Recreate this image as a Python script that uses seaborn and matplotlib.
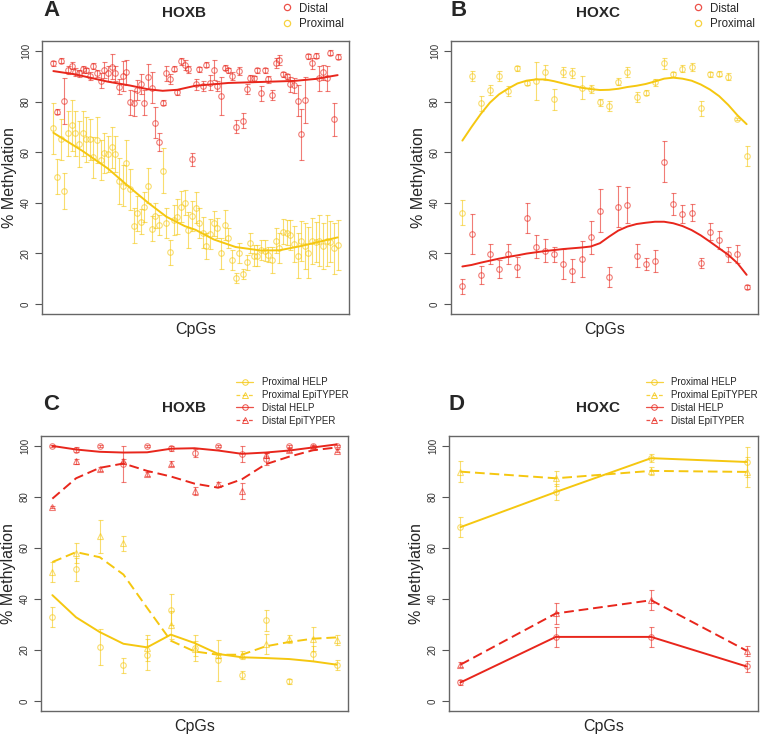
import matplotlib
matplotlib.use('Agg')
import matplotlib.pyplot as plt
from matplotlib.lines import Line2D
import numpy as np
import seaborn as sns

# ---------------- panel A: HOXB, 79 CpGs ----------------
a_distal = [95.1, 76.0, 96.2, 80.2, 92.5, 94.3, 91.8, 91.2, 92.8, 92.5,
            90.1, 94.1, 91.2, 88.3, 92.5, 91.2, 93.8, 91.2, 85.9, 90.1,
            91.6, 79.8, 79.3, 84.6, 87.0, 79.6, 89.9, 85.6, 71.7, 64.0,
            79.6, 91.2, 88.8, 93.1, 83.8, 95.9, 94.5, 92.8, 57.2, 86.8,
            92.8, 86.2, 94.7, 87.5, 92.5, 86.2, 82.2, 93.5, 92.5, 90.1,
            70.1, 92.1, 72.5, 85.0, 89.2, 89.2, 92.5, 83.3, 92.5, 88.8,
            82.6, 95.4, 96.4, 90.8, 90.1, 86.8, 86.4, 80.4, 67.1, 80.6,
            98.0, 95.1, 98.2, 89.2, 91.6, 89.2, 99.3, 73.0, 97.7]
a_distal_err = [1, 1, 1, 9, 1.5, 1.5, 1.5, 1.5, 1.5, 1,
                1.5, 1, 1.5, 3, 3, 3, 5, 3, 3, 6,
                5, 5, 5, 4, 4, 5, 5, 6, 6, 3.5,
                1, 3, 2, 1, 1, 1.5, 2, 1.5, 2.5, 2,
                1, 2, 1, 3, 4, 2, 7.5, 1, 1, 1.5,
                2.5, 1.5, 3, 2, 1.5, 1, 1, 3, 1, 1.5,
                2, 2, 2, 1, 1, 3, 3, 6, 10, 9,
                1, 2, 1, 5, 3, 5, 1, 6.5, 1]
a_proximal = [69.4, 50.3, 65.1, 44.7, 67.5, 70.6, 67.5, 63.2, 67.5, 65.1,
              65.1, 58.0, 64.8, 56.9, 59.6, 59.3, 61.9, 59.3, 48.7, 46.8,
              55.9, 45.3, 31.0, 35.8, 32.5, 38.2, 46.8, 29.8, 34.9, 31.2,
              52.7, 32.1, 20.4, 33.2, 34.5, 38.5, 40.1, 29.2, 34.8, 38.1,
              32.1, 28.2, 22.9, 27.7, 31.9, 29.9, 20.0, 31.2, 26.0, 17.4,
              10.1, 20.0, 11.9, 16.5, 24.0, 19.1, 19.1, 21.3, 21.1, 19.4,
              17.4, 25.0, 22.0, 28.6, 28.2, 27.3, 23.7, 19.1, 24.9, 22.9,
              20.3, 24.9, 24.5, 25.0, 22.9, 25.0, 24.6, 22.0, 23.3]
a_proximal_err = [10, 7, 8, 7, 9, 10, 9, 9, 9, 9,
                  8, 8, 9, 8, 8, 7, 8, 7, 9, 8,
                  9, 8, 7, 7, 5, 6, 7, 5, 5, 4,
                  9, 6, 5, 6, 7, 6, 5, 7, 6, 6,
                  6, 6, 5, 6, 5, 4, 6, 6, 4, 4,
                  2, 4, 2, 3, 4, 4, 4, 4, 4, 3,
                  5, 5, 6, 5, 5, 6, 7, 9, 8, 9,
                  10, 9, 8, 10, 9, 10, 8, 10, 10]
# smoothed trend, read at a few CpG positions
a_trend_x = [0, 6, 15, 21, 26, 30, 34, 39, 48, 57, 66, 72, 78]
a_trend_distal = [92.1, 90.8, 87.9, 86.4, 84.9, 84.3, 84.7, 86.3, 87.4, 87.8, 88.2, 89.0, 90.5]
a_trend_px = [0, 8, 15, 21, 26, 31, 36, 39, 44, 50, 57, 62, 68, 73, 78]
a_trend_proximal = [67.7, 60.5, 53.5, 46.0, 40.0, 34.5, 30.8, 29.3, 25.5, 22.5,
                    21.1, 21.2, 22.9, 24.6, 26.3]

# ---------------- panel B: HOXC, 32 CpGs ----------------
b_proximal = [36.1, 90.2, 79.3, 84.6, 90.2, 84.3, 93.3, 87.5, 88.0, 91.7,
              80.9, 91.6, 91.4, 85.6, 85.0, 79.7, 78.4, 87.9, 91.8, 81.7,
              83.5, 87.6, 95.1, 90.8, 93.1, 93.8, 77.3, 90.8, 91.0, 89.9,
              73.1, 58.6]
b_proximal_err = [5, 2, 3, 2, 2, 2, 1, 1, 7.5, 3,
                  4, 2, 2, 4.5, 1.5, 1.5, 2, 1.5, 2, 2,
                  1, 1.5, 2, 1, 1.5, 1.5, 3, 1, 1, 1.5,
                  0.5, 4]
b_distal = [6.9, 27.7, 11.3, 19.6, 13.8, 19.6, 14.5, 34.1, 22.7, 21.1,
            19.6, 15.7, 13.2, 17.7, 26.4, 36.9, 10.5, 38.5, 39.1, 19.1,
            15.8, 17.0, 56.3, 39.5, 35.6, 36.1, 16.3, 28.6, 25.3, 19.6,
            19.6, 6.5]
b_distal_err = [3, 8, 3.5, 4, 3.5, 4, 4, 6, 4.5, 4.5,
                3, 6, 4.5, 7, 6.5, 8.5, 4, 8, 7, 4.5,
                2.5, 4.5, 8, 4.5, 3.5, 3.5, 2, 3.5, 3.5, 3,
                3.5, 0.8]
b_trend_proximal = [64.6, 70.0, 75.1, 79.6, 82.9, 85.2, 87.2, 88.3, 88.8, 88.8,
                    88.1, 87.2, 86.3, 85.5, 85.0, 84.6, 84.7, 85.1, 85.8, 86.3,
                    87.0, 88.0, 89.1, 89.5, 89.1, 88.3, 86.8, 84.8, 82.2, 78.7,
                    74.6, 71.1]
b_trend_distal = [14.8, 15.4, 16.3, 17.1, 17.9, 18.6, 19.2, 19.9, 20.4, 20.9,
                  21.3, 21.7, 22.0, 22.3, 22.7, 24.0, 26.6, 29.0, 30.6, 31.6,
                  32.1, 32.5, 32.5, 31.9, 30.8, 29.2, 27.1, 24.6, 22.0, 19.4,
                  16.1, 11.5]

# ---------------- panel C: HOXB, HELP vs EpiTYPER ----------------
c_prox_help = [32.9, 51.6, 21.1, 13.9, 18.1, 35.8, 20.7, 15.9, 10.2, 31.6, 7.6, 18.5, 14.2]
c_prox_help_err = [4, 4.5, 7, 3, 6, 6, 5, 8, 1.5, 4, 1, 3, 2]
c_prox_epi = [50.7, 58.1, 64.7, 61.8, 20.8, 29.7, 20.5, 17.8, 18.1, 22.4, 24.4, 24.4, 23.8]
c_prox_epi_err = [4, 4, 6.5, 3, 5, 5.5, 3, 1, 1.5, 4, 1.5, 4.7, 2]
c_dist_help = [100, 98.6, 100, 92.9, 100, 99.2, 97.2, 100, 96.9, 95.0, 100, 100, 100]
c_dist_help_err = [0.3, 1, 0.3, 7, 0.3, 1, 1.5, 0.3, 3, 2.5, 0.3, 0.5, 0.5]
c_dist_epi = [76.1, 94.0, 91.2, 94.0, 89.2, 93.2, 82.4, 85.0, 82.4, 96.5, 98.4, 99.7, 98.2]
c_dist_epi_err = [0.5, 1, 0.8, 1, 0.8, 1, 1.5, 1, 3, 1, 0.8, 0.5, 0.5]
c_trend_prox_help = [41.5, 32.8, 27.0, 22.4, 21.0, 26.0, 22.7, 18.4, 17.1, 16.8, 16.4, 15.5, 14.2]
c_trend_prox_epi = [54.5, 58.4, 56.4, 49.6, 36.5, 23.6, 19.4, 18.1, 18.1, 21.4, 23.1, 24.4, 24.9]
c_trend_dist_help = [100.1, 98.7, 97.8, 97.5, 97.6, 99.0, 99.2, 98.3, 97.0, 97.5, 98.3, 99.5, 100.7]
c_trend_dist_epi = [79.4, 87.4, 91.5, 93.2, 90.3, 88.1, 85.3, 83.7, 87.0, 92.9, 95.9, 98.4, 99.5]

# ---------------- panel D: HOXC, HELP vs EpiTYPER ----------------
d_prox_help = [68.2, 82.0, 95.3, 93.8]
d_prox_help_err = [4, 3, 1.5, 6]
d_prox_epi = [90.0, 87.4, 90.3, 89.9]
d_prox_epi_err = [4, 3, 1.5, 6]
d_dist_help = [7.2, 25.1, 25.1, 13.5]
d_dist_help_err = [1, 4, 4, 2]
d_dist_epi = [14.2, 34.3, 39.5, 19.7]
d_dist_epi_err = [1, 4, 4, 2]

RED = '#E8261C'
GOLD = '#F5C710'
DASH = (0, (5, 2.5))

sns.set_style('white')
plt.rcParams['font.family'] = ['Liberation Sans', 'DejaVu Sans']

W, H = 760, 734
fig = plt.figure(figsize=(W / 100, H / 100), dpi=100)


def px_axes(left, top, right, bottom):
    return fig.add_axes([left / W, 1 - bottom / H, (right - left) / W, (bottom - top) / H])


def style(ax, n):
    pad = 0.04 * (n - 1)
    ax.set_xlim(-pad, n - 1 + pad)
    ax.set_ylim(-4, 104)
    ax.set_xticks([])
    ax.set_yticks([0, 20, 40, 60, 80, 100])
    ax.tick_params(axis='y', left=True, length=5, width=0.8, color='#555555',
                   labelsize=7, labelcolor='#333333', pad=3, labelrotation=90)
    for lab in ax.get_yticklabels():
        lab.set_va('center')
    for sp in ax.spines.values():
        sp.set_color('#666666')
        sp.set_linewidth(1)
    ax.set_xlabel('CpGs', fontsize=11.5, labelpad=6)
    ax.set_ylabel('% Methylation', fontsize=11.5, labelpad=3)


def points(ax, y, err, color, marker='o', alpha=0.6):
    x = np.arange(len(y))
    ax.errorbar(x, y, yerr=err, fmt=marker, mfc='none', mec=color, ms=4, mew=0.8,
                ecolor=color, elinewidth=0.8, capsize=1.8, capthick=0.8,
                alpha=alpha, linestyle='none')


def trend(ax, x, y, color, dashed=False):
    kw = {'linestyle': DASH} if dashed else {}
    sns.lineplot(x=x, y=y, ax=ax, color=color, linewidth=1.4, **kw)


def heading(letter, title, lx, tx, y):
    fig.text(lx / W, 1 - y / H, letter, fontsize=16, fontweight='bold', ha='left', va='center')
    fig.text(tx / W, 1 - (y + 3) / H, title, fontsize=11, fontweight='bold', ha='center', va='center')


# panel A
ax = px_axes(42, 41, 349, 314)
points(ax, a_distal, a_distal_err, RED)
points(ax, a_proximal, a_proximal_err, GOLD)
trend(ax, a_trend_x, a_trend_distal, RED)
trend(ax, a_trend_px, a_trend_proximal, GOLD)
style(ax, len(a_distal))
heading('A', 'HOXB', 43, 184, 10)

# panel B
ax = px_axes(451, 41, 758, 314)
points(ax, b_distal, b_distal_err, RED)
points(ax, b_proximal, b_proximal_err, GOLD)
trend(ax, np.arange(len(b_trend_proximal)), b_trend_proximal, GOLD)
trend(ax, np.arange(len(b_trend_distal)), b_trend_distal, RED)
style(ax, len(b_distal))
heading('B', 'HOXC', 451, 598, 10)

# panel C
ax = px_axes(41, 436, 348, 711)
points(ax, c_dist_help, c_dist_help_err, RED)
points(ax, c_dist_epi, c_dist_epi_err, RED, marker='^')
points(ax, c_prox_help, c_prox_help_err, GOLD)
points(ax, c_prox_epi, c_prox_epi_err, GOLD, marker='^')
xc = np.arange(len(c_prox_help))
trend(ax, xc, c_trend_dist_help, RED)
trend(ax, xc, c_trend_dist_epi, RED, dashed=True)
trend(ax, xc, c_trend_prox_help, GOLD)
trend(ax, xc, c_trend_prox_epi, GOLD, dashed=True)
style(ax, len(c_prox_help))
heading('C', 'HOXB', 43, 184, 405)

# panel D
ax = px_axes(449, 436, 758, 711)
points(ax, d_prox_help, d_prox_help_err, GOLD)
points(ax, d_prox_epi, d_prox_epi_err, GOLD, marker='^')
points(ax, d_dist_help, d_dist_help_err, RED)
points(ax, d_dist_epi, d_dist_epi_err, RED, marker='^')
xd = np.arange(len(d_prox_help))
trend(ax, xd, d_prox_help, GOLD)
trend(ax, xd, d_prox_epi, GOLD, dashed=True)
trend(ax, xd, d_dist_help, RED)
trend(ax, xd, d_dist_epi, RED, dashed=True)
style(ax, len(d_prox_help))
heading('D', 'HOXC', 449, 598, 405)

# legends
for lx in (283, 693.5):
    handles = [Line2D([], [], marker='o', ls='none', mfc='none', mec=c, ms=4.5, mew=0.9, alpha=0.8)
               for c in (RED, GOLD)]
    fig.legend(handles, ['Distal', 'Proximal'], loc='upper left',
               bbox_to_anchor=(lx / W, 1 - 2.5 / H), frameon=False, borderpad=0,
               borderaxespad=0, handlelength=0.7, handletextpad=0.72, labelspacing=0.27,
               prop={'size': 8.3})

labels = ['Proximal HELP', 'Proximal EpiTYPER', 'Distal HELP', 'Distal EpiTYPER']
for lx in (236, 645.5):
    handles = [Line2D([], [], color=c, marker=m, mfc='none', ms=4, mew=0.7, lw=0.9,
                      ls=('-' if m == 'o' else (0, (3, 2))), alpha=0.8)
               for c, m in ((GOLD, 'o'), (GOLD, '^'), (RED, 'o'), (RED, '^'))]
    fig.legend(handles, labels, loc='upper left',
               bbox_to_anchor=(lx / W, 1 - 377 / H), frameon=False, borderpad=0,
               borderaxespad=0, handlelength=1.75, handletextpad=0.9, labelspacing=0.3,
               prop={'size': 7})

fig.savefig('out.png', dpi=100)
